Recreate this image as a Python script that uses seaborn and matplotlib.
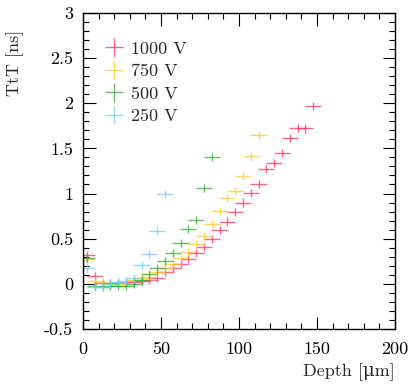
import numpy as np
import pandas as pd
import matplotlib
matplotlib.use('Agg')
import matplotlib.pyplot as plt
from matplotlib.ticker import MultipleLocator, FuncFormatter
import seaborn as sns

# centros de los bins en profundidad (um)
depth = np.arange(2.5, 150, 5.0)

ttt_1000 = [0.32, 0.09, 0.01, 0.01, 0.01, 0.02, 0.02, 0.03, 0.04, 0.07,
            0.13, 0.17, 0.22, 0.28, 0.34, 0.41, 0.50, 0.60, 0.69, 0.80,
            0.90, 1.01, 1.11, 1.27, 1.34, 1.45, 1.61, 1.73, 1.72, 1.97]
ttt_750 = [0.27, 0.03, 0.02, 0.00, 0.00, 0.01, 0.04, 0.07, 0.08, 0.13,
           0.18, 0.22, 0.29, 0.35, 0.44, 0.53, 0.66, 0.81, 0.95, 1.03,
           1.19, 1.41, 1.65]
ttt_500 = [0.29, -0.02, -0.03, -0.02, -0.02, -0.02, 0.00, 0.04, 0.11, 0.17,
           0.25, 0.34, 0.45, 0.61, 0.71, 1.06, 1.40]
ttt_250 = [0.17, -0.03, -0.03, 0.00, 0.02, 0.03, 0.06, 0.21, 0.33, 0.59, 0.99]

labels = ['1000 V', '750 V', '500 V', '250 V']
series = [ttt_1000, ttt_750, ttt_500, ttt_250]

rows = []
for lab, vals in zip(labels, series):
    for d, t in zip(depth, vals):
        rows.append({'Depth': d, 'TtT': t, 'Voltage': lab})
df = pd.DataFrame(rows)

sns.set_theme(style='ticks')
plt.rcParams['font.family'] = ['cmr10', 'DejaVu Serif']
plt.rcParams['mathtext.fontset'] = 'cm'
plt.rcParams['axes.unicode_minus'] = False
plt.rcParams['axes.formatter.use_mathtext'] = True

colores = sns.color_palette(['#ff3366', '#ffcc22', '#33aa33', '#77ccff'])

fig = plt.figure(figsize=(4.15, 3.91), dpi=100)
ax = fig.add_axes([0.2, 0.1586, 0.752, 0.8084])

for lab, col in zip(labels, colores):
    sub = df[df['Voltage'] == lab]
    ax.errorbar(sub['Depth'], sub['TtT'], xerr=5.2, yerr=0.045, fmt='none',
                ecolor=col, elinewidth=1.0, alpha=0.75, label=lab)

ax.set_xlim(0, 200)
ax.set_ylim(-0.5, 3)
ax.xaxis.set_major_locator(MultipleLocator(50))
ax.xaxis.set_minor_locator(MultipleLocator(10))
ax.yaxis.set_major_locator(MultipleLocator(0.5))
ax.yaxis.set_minor_locator(MultipleLocator(0.1))
ax.xaxis.set_major_formatter(FuncFormatter(lambda v, p: f'{v:g}'))
ax.yaxis.set_major_formatter(FuncFormatter(lambda v, p: f'{v:g}'))
ax.tick_params(which='both', direction='in', top=True, right=True,
               labelsize=13, colors='black', width=0.8)
ax.tick_params(which='major', length=9, pad=7)
ax.tick_params(axis='x', which='major', pad=9)
ax.tick_params(which='minor', length=4.5)
for s in ax.spines.values():
    s.set_linewidth(1.0)
    s.set_color('black')

ax.set_xlabel('Depth [μm]', fontsize=13, loc='right')
ax.set_ylabel('TtT [ns]', fontsize=13, loc='top')
ax.xaxis.set_label_coords(1.0, -0.11)
ax.yaxis.set_label_coords(-0.19, 0.946)

ax.legend(loc='upper left', bbox_to_anchor=(0.022, 0.962), frameon=False,
          fontsize=13, handlelength=0.9, handletextpad=0.5, labelspacing=0.38)

plt.savefig('out.png', dpi=100)
